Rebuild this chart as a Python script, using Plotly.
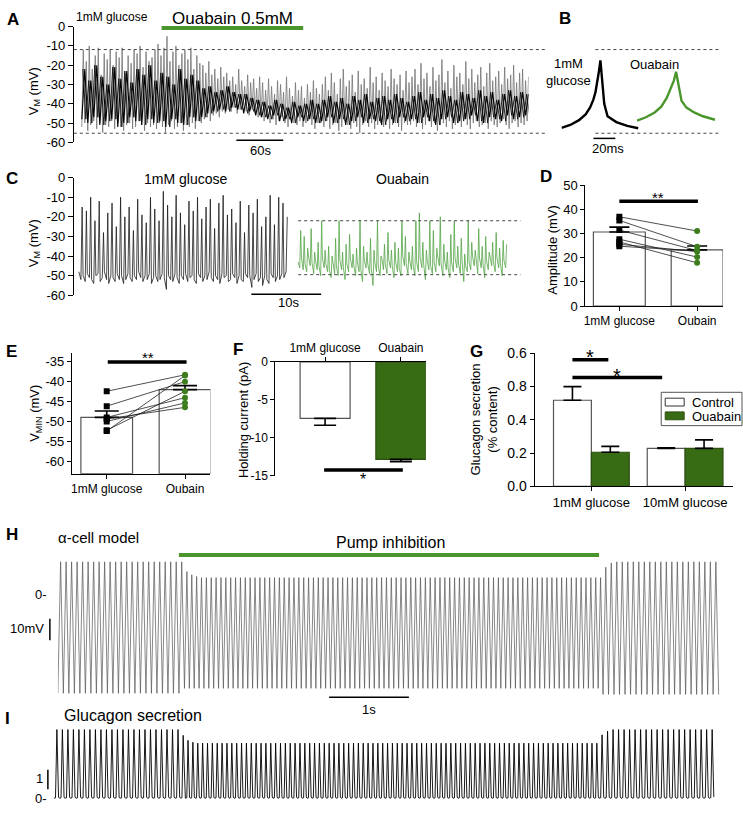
import numpy as np
import plotly.graph_objects as go

W, H = 743, 815
def fx(p): return p / W
def fy(p): return 1 - p / H
def dx(a, b): return [fx(a), fx(b)]
def dy(top, bot): return [fy(bot), fy(top)]

FONT = "Liberation Sans, Arial, sans-serif"
GREEN_BAR = "#376b14"
GREEN_LINE = "#4a962c"
GREEN_TRACE = "#55a447"
GREEN_DOT = "#3d7d1e"

# ---------------- Panel A: whole recording (mV) ----------------
A_DURATION = 570  # s
a_peaks = [-12,-18,-10,-22,-15,-11,-25,-14,-17,-12,-20,-13,-16,-11,-24,-15,-19,-12,-14,-10,-21,-13,-18,-16,-12,
           -9,-15,-11,-5,-18,-13,-10,-20,-14,-12,-17,-11,-22,-15,-19,
           -20,-24,-18,-25,-22,-27,-21,-26,-24,-28,
           -26,-30,-22,-28,-31,-25,-29,-27,-32,-26,
           -29,-33,-27,-31,-35,-28,-30,-34,-26,-32,-36,-29,-33,-31,-37,-30,-34,-28,-32,-35,
           -30,-26,-33,-24,-29,-35,-27,-22,-31,-28,-25,-34,-23,-30,-27,-32,-21,-29,-26,-33,-24,-28,-31,-22,-27,-30,-25,-33,-23,-29,
           -26,-22,-30,-19,-27,-24,-31,-21,-28,-25,-17,-29,-23,-32,-20,-26,-24,-30,-18,-27,-22,-29,-25,-21,-31,-24,-19,-28,-26,-23,-30,-21,-27,-25,-20,-29,-24,-22,-28,-26]
a_troughs = [-52,-50,-54,-51,-49,-53,-50,-55,-51,-52,-49,-53,-50,-52,-54,-51,-50,-53,-52,-49,-51,-54,-50,-52,-51,
             -53,-50,-52,-55,-51,-49,-53,-52,-50,-54,-51,-52,-50,-53,-49,
             -50,-48,-47,-49,-46,-45,-47,-44,-45,-43,
             -44,-42,-45,-43,-41,-44,-46,-43,-45,-47,
             -47,-49,-46,-50,-48,-51,-49,-47,-50,-52,-48,-50,-51,-49,-52,-50,-48,-51,-53,-50,
             -50,-52,-49,-53,-51,-50,-54,-52,-49,-51,-53,-50,-52,-55,-51,-49,-52,-50,-53,-51,-50,-52,-49,-53,-51,-50,-52,-54,-50,-51,
             -51,-49,-52,-50,-53,-51,-49,-52,-50,-54,-51,-50,-52,-49,-53,-51,-50,-52,-48,-51,-53,-50,-49,-52,-51,-50,-53,-49,-51,-52,-50,-48,-51,-53,-50,-49,-52,-50,-51,-49]
a_core_hi = [-22,-28,-20,-26,-30,-21,-27,-23,-29,-22,-25,-20,-28,-24,-26,-30,-22,-27,-25,-28,
             -32,-31,-34,-33,-31,-34,-35,-35,-37,-38,
             -39,-41,-38,-40,-42,-39,-41,-40,-38,-40,
             -38,-36,-39,-37,-40,-36,-38,-35,-39,-37,-36,-38,-35,-37,-39,
             -36,-34,-38,-35,-37,-33,-36,-38,-34,-35,-37,-33,-36,-34,-38,-35,-33,-36,-34,-35]
a_core_lo = [-48,-50,-47,-51,-49,-48,-52,-50,-47,-49,-51,-48,-50,-49,-52,-48,-50,-51,-47,-49,
             -47,-45,-44,-43,-44,-42,-43,-45,-44,-46,
             -47,-48,-46,-49,-48,-50,-47,-49,-48,-50,
             -49,-47,-50,-48,-51,-49,-47,-50,-48,-49,-51,-48,-50,-47,-49,
             -48,-50,-47,-49,-51,-48,-47,-50,-49,-48,-46,-49,-50,-47,-48,-49,-46,-48,-47,-46]
a_ref_levels = [-11.9, -55.3]

# ---------------- Panel B: single spikes ----------------
b_glc_t = [0, 8, 16, 22, 26, 29, 31, 33, 34.5, 35.5, 37, 39, 42, 50, 60, 70]
b_glc_v = [-52.5, -51, -48.5, -45.5, -42, -38, -34, -28, -22, -17.5, -28, -40, -46.5, -49.5, -51.5, -52.7]
b_oua_t = [0, 8, 16, 22, 27, 31, 33.5, 35.5, 37.5, 40.5, 45, 52, 60, 71]
b_oua_v = [-48.8, -47, -44.5, -41.5, -37, -32, -28, -23.4, -30, -38.5, -42, -44.5, -46.5, -48.3]
B_OUA_OFFSET = 69  # ms

# ---------------- Panel C: 30 s excerpts ----------------
c_glc_peaks = [-15,-17,-10,-22,-12,-28,-18,-13,-25,-10,
               -20,-15,-27,-11,-19,-23,-10,-16,-22,-7,
               -14,-20,-9,-18,-24,-12,-17,-10,-21,-15,
               -11,-26,-13,-9,-19,-16,-23,-12,-28,-14,
               -18,-11,-25,-20,-9,-24,-10,-13,-20]
c_glc_base = [-48,-52,-50,-53,-49,-51,-52,-54,-50,-49,
              -53,-51,-48,-52,-54,-50,-51,-53,-49,-52,
              -50,-54,-52,-49,-51,-53,-50,-52,-48,-51,
              -53,-50,-52,-49,-54,-51,-50,-53,-52,-49,
              -51,-57,-50,-52,-53,-49,-51,-54,-50,-52,
              -49,-53,-51,-50,-52,-54,-49,-51,-53,-50,
              -52,-48,-51,-53,-50,-52,-54,-49,-51,-50,
              -53,-52,-49,-51,-54,-50,-52,-53,-49,-51,
              -50,-56,-52,-49,-53,-51,-55,-50,-52,-54,
              -49,-51,-53,-50,-52,-49,-51,-48]
c_oua_peaks = [-27,-30,-36,-26,-38,-33,-22,-37,-35,-40,-31,-22,-38,-34,-29,-39,-36,-22,-35,-38,
               -31,-37,-22,-40,-34,-28,-37,-33,-36,-22,-30,-38,-35,-22,-18,-33,-37,-22,-27,-36,
               -20,-34,-38,-29,-22,-35,-31,-39,-22,-33,-37,-26,-35,-30,-38,-33,-28,-36,-32,-34]
c_oua_base = [-43,-46,-41,-47,-44,-48,-40,-45,-43,-49,
              -42,-47,-45,-50,-41,-46,-44,-48,-47,-51,
              -43,-49,-45,-50,-42,-47,-46,-52,-44,-48,
              -41,-46,-45,-50,-43,-48,-47,-53,-42,-46,
              -44,-49,-46,-55,-43,-48,-45,-50,-41,-47,
              -44,-49,-42,-46,-45,-51,-43,-48,-46,-50,
              -40,-45,-44,-49,-42,-47,-45,-50,-43,-48,
              -41,-46,-44,-52,-42,-47,-45,-49,-43,-48,
              -40,-45,-44,-50,-42,-47,-46,-51,-43,-48,
              -41,-46,-44,-49,-42,-53,-45,-48,-43,-47,
              -40,-45,-42,-49,-41,-46,-44,-51,-42,-47,
              -40,-45,-43,-48,-41,-46,-44,-50,-42,-46]
c_ref_levels = [-22, -49.5]
C_SEG = 30.0       # s per excerpt
C_OUA_START = 31.4 # s

# ---------------- Panel D: amplitude ----------------
d_cats = ["1mM glucose", "Oubain"]
d_means = [30.7, 23.3]
d_sem = [2.0, 1.6]
d_glc = [37.0, 35.5, 31.5, 27.7, 26.6, 25.6, 24.8]
d_oua = [31.1, 24.6, 23.0, 20.3, 17.9, 22.6, 22.8]
d_sig = 43.5

# ---------------- Panel E: Vmin ----------------
e_cats = ["1mM glucose", "Oubain"]
e_means = [-49.0, -42.1]
e_sem = [1.6, 1.0]
e_glc = [-42.5, -46.2, -49.0, -49.4, -50.0, -52.2, -52.4]
e_oua = [-38.4, -40.1, -44.1, -46.5, -45.4, -42.5, -38.6]
e_floor = -63
e_sig = -35.2

# ---------------- Panel F: holding current ----------------
f_cats = ["1mM glucose", "Ouabain"]
f_means = [-7.45, -12.85]
f_sem = [0.9, 0.3]
f_sig = -14.27

# ---------------- Panel G: glucagon secretion ----------------
g_groups = ["1mM glucose", "10mM glucose"]
g_series = ["Control", "Ouabain"]
g_ctrl = [0.517, 0.228]
g_ctrl_sem = [0.082, 0.003]
g_oua = [0.205, 0.228]
g_oua_sem = [0.035, 0.051]
g_tickvals = [0.0, 0.2, 0.4, 0.6, 0.8]
g_ticktext = ["0.0", "0.2", "0.4", "0.8", "0.6"]
g_sig = [0.76, 0.653]

# ---------------- Panel H / I: model ----------------
n_pre, n_during, n_post = 23, 86, 21
period_pre, period_during, period_post = 0.069, 0.061, 0.069
h_peak_pre, h_peak_during, h_peak_post = 15.0, 7.7, 15.0
h_on_peaks = [10.5, 9.0, 8.2]
h_off_peaks = [12.5, 14.5]
h_trough_pre, h_trough_during, h_trough_post = -45.9, -43.6, -46.4
i_peak_pre, i_peak_during, i_peak_post = 3.68, 2.95, 3.68
i_on_peaks = [3.37, 3.1, 3.0]
i_off_peaks = [3.4, 3.6]
HI_RANGE = [0, 8.3125]

fig = go.Figure()
def line_tr(x, y, ax, color, width, opacity=1.0):
    fig.add_trace(go.Scatter(x=x, y=y, mode="lines", line=dict(color=color, width=width),
                             opacity=opacity, xaxis="x" + ax, yaxis="y" + ax,
                             showlegend=False, hoverinfo="skip"))

# A traces: spikes (grey) and dense core (black), core drawn twice with an offset
a_v = []
for tr, pk in zip(a_troughs, a_peaks):
    a_v += [tr, pk]
a_t = np.linspace(0, A_DURATION, len(a_v))
line_tr(a_t, a_v, "", "#747474", 0.8)
core_v = []
for lo, hi in zip(a_core_lo, a_core_hi):
    core_v += [lo, hi]
core_t = np.linspace(0, A_DURATION, len(core_v))
line_tr(core_t, core_v, "", "#000000", 1.1)
core_v2 = []
for lo, hi in zip(a_core_lo, a_core_hi):
    core_v2 += [hi, lo]
step = A_DURATION / len(core_v2)
line_tr(core_t + step * 0.35, core_v2, "", "#111111", 0.9)

# B traces
line_tr(b_glc_t, b_glc_v, "2", "#000000", 2.4)
line_tr([t + B_OUA_OFFSET for t in b_oua_t], b_oua_v, "2", GREEN_LINE, 2.4)

# C traces: two baseline samples then a narrow spike per event
def excerpt(peaks, base, t0, dur):
    xs, ys = [], []
    n = len(peaks)
    u = dur / n
    for i, p in enumerate(peaks):
        if 2 * i + 1 < len(base):
            t = t0 + i * u
            xs += [t, t + 0.5 * u, t + 0.78 * u]
            ys += [base[2 * i], base[2 * i + 1], p]
    return xs, ys
x1, y1 = excerpt(c_glc_peaks, c_glc_base, 0, C_SEG)
line_tr(x1, y1, "3", "#1a1a1a", 0.8)
x2, y2 = excerpt(c_oua_peaks, c_oua_base, C_OUA_START, C_SEG)
line_tr(x2, y2, "3", GREEN_TRACE, 0.8)

# D
fig.add_trace(go.Bar(x=[0, 1], y=d_means, width=0.667, marker=dict(color="white", line=dict(color="#555", width=1.2)),
                     xaxis="x4", yaxis="y4", showlegend=False, hoverinfo="skip"))
fig.add_trace(go.Scatter(x=[0, 1], y=d_means, mode="markers", marker=dict(size=1, color="rgba(0,0,0,0)"),
                         error_y=dict(type="data", symmetric=False, array=d_sem, arrayminus=[0, 0], width=10, thickness=1.6, color="black"),
                         xaxis="x4", yaxis="y4", showlegend=False, hoverinfo="skip"))
px_, py_ = [], []
for a, b in zip(d_glc, d_oua):
    px_ += [0, 1, None]; py_ += [a, b, None]
fig.add_trace(go.Scatter(x=px_, y=py_, mode="lines", line=dict(color="#222", width=0.8), xaxis="x4", yaxis="y4", showlegend=False, hoverinfo="skip"))
fig.add_trace(go.Scatter(x=[0] * len(d_glc), y=d_glc, mode="markers", marker=dict(symbol="square", size=6, color="black"), xaxis="x4", yaxis="y4", showlegend=False, hoverinfo="skip"))
fig.add_trace(go.Scatter(x=[1] * len(d_oua), y=d_oua, mode="markers", marker=dict(symbol="circle", size=6, color=GREEN_DOT), xaxis="x4", yaxis="y4", showlegend=False, hoverinfo="skip"))

# E
fig.add_trace(go.Bar(x=[0, 1], y=[m - e_floor for m in e_means], base=e_floor, width=0.66,
                     marker=dict(color="white", line=dict(color="#555", width=1.2)),
                     xaxis="x5", yaxis="y5", showlegend=False, hoverinfo="skip"))
fig.add_trace(go.Scatter(x=[0, 1], y=e_means, mode="markers", marker=dict(size=1, color="rgba(0,0,0,0)"),
                         error_y=dict(type="data", symmetric=False, array=e_sem, arrayminus=[0, 0], width=12, thickness=1.6, color="black"),
                         xaxis="x5", yaxis="y5", showlegend=False, hoverinfo="skip"))
px_, py_ = [], []
for a, b in zip(e_glc, e_oua):
    px_ += [0, 1, None]; py_ += [a, b, None]
fig.add_trace(go.Scatter(x=px_, y=py_, mode="lines", line=dict(color="#222", width=0.8), xaxis="x5", yaxis="y5", showlegend=False, hoverinfo="skip"))
fig.add_trace(go.Scatter(x=[0] * len(e_glc), y=e_glc, mode="markers", marker=dict(symbol="square", size=6, color="black"), xaxis="x5", yaxis="y5", showlegend=False, hoverinfo="skip"))
fig.add_trace(go.Scatter(x=[1] * len(e_oua), y=e_oua, mode="markers", marker=dict(symbol="circle", size=6, color=GREEN_DOT), xaxis="x5", yaxis="y5", showlegend=False, hoverinfo="skip"))

# F
fig.add_trace(go.Bar(x=[0, 1], y=f_means, width=0.66,
                     marker=dict(color=["white", GREEN_BAR], line=dict(color=["#555", "#2c4f12"], width=1.2)),
                     xaxis="x6", yaxis="y6", showlegend=False, hoverinfo="skip"))
fig.add_trace(go.Scatter(x=[0, 1], y=f_means, mode="markers", marker=dict(size=1, color="rgba(0,0,0,0)"),
                         error_y=dict(type="data", symmetric=False, array=[0, 0], arrayminus=f_sem, width=11, thickness=1.6, color="black"),
                         xaxis="x6", yaxis="y6", showlegend=False, hoverinfo="skip"))

# G
g_off = 0.202
g_w = 0.404
fig.add_trace(go.Bar(x=[i - g_off for i in range(2)], y=g_ctrl, width=g_w, name=g_series[0],
                     marker=dict(color="white", line=dict(color="#555", width=1.2)),
                     xaxis="x7", yaxis="y7", hoverinfo="skip", showlegend=False))
fig.add_trace(go.Bar(x=[i + g_off for i in range(2)], y=g_oua, width=g_w, name=g_series[1],
                     marker=dict(color=GREEN_BAR, line=dict(color="#2c4f12", width=1.2)),
                     xaxis="x7", yaxis="y7", hoverinfo="skip", showlegend=False))
fig.add_trace(go.Scatter(x=[i - g_off for i in range(2)] + [i + g_off for i in range(2)], y=g_ctrl + g_oua, mode="markers",
                         marker=dict(size=1, color="rgba(0,0,0,0)"),
                         error_y=dict(type="data", symmetric=False, array=g_ctrl_sem + g_oua_sem, arrayminus=[0] * 4, width=9, thickness=1.6, color="black"),
                         xaxis="x7", yaxis="y7", showlegend=False, hoverinfo="skip"))

# H and I
periods = [period_pre] * n_pre + [period_during] * n_during + [period_post] * n_post
h_peaks = ([h_peak_pre] * n_pre + h_on_peaks + [h_peak_during] * (n_during - len(h_on_peaks))
           + h_off_peaks + [h_peak_post] * (n_post - len(h_off_peaks)))
h_troughs = [h_trough_pre] * n_pre + [h_trough_during] * n_during + [h_trough_post] * n_post
i_peaks = ([i_peak_pre] * n_pre + i_on_peaks + [i_peak_during] * (n_during - len(i_on_peaks))
           + i_off_peaks + [i_peak_post] * (n_post - len(i_off_peaks)))
hx, hy, ix, iy = [], [], [], []
t = 0.0
for p, pk, tr, ipk in zip(periods, h_peaks, h_troughs, i_peaks):
    hx += [t, t + 0.5 * p]; hy += [tr, pk]
    ix += [t, t + 0.3 * p, t + 0.55 * p, t + 0.85 * p]; iy += [0.0, 0.02, ipk, 0.06]
    t += p
hx.append(t); hy.append(h_troughs[-1])
line_tr(hx, hy, "8", "#555555", 0.7)
line_tr(ix, iy, "9", "#000000", 0.9)
inhib_start = n_pre * period_pre
inhib_end = inhib_start + n_during * period_during

# ---------------- Axes ----------------
def hidden(dom, rng, anchor):
    return dict(domain=dom, range=rng, anchor=anchor, visible=False, fixedrange=True)

def neg_text(vals):
    return [("-" if v < 0 else "") + ("%g" % abs(v)) for v in vals]

tick_common = dict(showgrid=False, zeroline=False, showline=True, linecolor="black", linewidth=1,
                   ticks="outside", tickcolor="black", tickwidth=1, fixedrange=True)

lay = {}
lay["xaxis"] = hidden(dx(72, 528), [-10.2, A_DURATION], "y")
lay["yaxis"] = dict(domain=dy(19, 137), range=[-60, 0], anchor="x", ticklen=5,
                    tickvals=list(range(0, -61, -10)), ticktext=neg_text(range(0, -61, -10)),
                    tickfont=dict(size=13), **tick_common)
lay["xaxis2"] = hidden(dx(561, 716), [0, 141], "y2")
lay["yaxis2"] = hidden(dy(19, 137), [-60, 0], "x2")
lay["xaxis3"] = hidden(dx(72, 520), [-0.714, 63.29], "y3")
lay["yaxis3"] = dict(domain=dy(173, 293), range=[-60, 0], anchor="x3", ticklen=5,
                     tickvals=list(range(0, -61, -10)), ticktext=neg_text(range(0, -61, -10)),
                     tickfont=dict(size=13), **tick_common)
lay["xaxis4"] = dict(domain=dx(585, 723), range=[-0.436, 1.333], anchor="y4", ticklen=4,
                     tickvals=[0, 1], ticktext=d_cats, tickfont=dict(size=12), **tick_common)
lay["yaxis4"] = dict(domain=dy(181, 304), range=[0, 50], anchor="x4", ticklen=4,
                     tickvals=[0, 10, 20, 30, 40, 50], tickfont=dict(size=13), **tick_common)
lay["xaxis5"] = dict(domain=dx(70, 209), range=[-0.446, 1.325], anchor="y5", ticklen=4,
                     tickvals=[0, 1], ticktext=e_cats, tickfont=dict(size=12), **tick_common)
lay["yaxis5"] = dict(domain=dy(352, 475), range=[e_floor, -33], anchor="x5", ticklen=4,
                     tickvals=list(range(-35, -61, -5)), ticktext=neg_text(range(-35, -61, -5)),
                     tickfont=dict(size=13), **tick_common)
lay["xaxis6"] = dict(domain=dx(274, 425), range=[-0.658, 1.33], anchor="y6", side="top", ticklen=4,
                     tickvals=[0, 1], ticktext=f_cats, tickfont=dict(size=12), **tick_common)
lay["yaxis6"] = dict(domain=dy(361, 477), range=[-15, 0], anchor="x6", ticklen=4,
                     tickvals=[0, -5, -10, -15], ticktext=neg_text([0, -5, -10, -15]),
                     tickfont=dict(size=12), **tick_common)
lay["xaxis7"] = dict(domain=dx(534, 733), range=[-0.606, 1.511], anchor="y7", ticklen=4,
                     tickvals=[0, 1], ticktext=g_groups, tickfont=dict(size=13), **tick_common)
lay["yaxis7"] = dict(domain=dy(352, 488), range=[0, 0.8], anchor="x7", ticklen=4,
                     tickvals=g_tickvals, ticktext=g_ticktext, tickfont=dict(size=14), **tick_common)
lay["xaxis8"] = hidden(dx(56, 721), HI_RANGE, "y8")
lay["yaxis8"] = hidden(dy(555, 705), [-48.6, 19.5], "x8")
lay["xaxis9"] = hidden(dx(52, 717), HI_RANGE, "y9")
lay["yaxis9"] = hidden(dy(728, 808), [-0.105, 4.1], "x9")

# ---------------- Annotations ----------------
ann = []
def txt(x, y, s, size=12, xa="center", ya="middle", angle=0, color="black"):
    ann.append(dict(x=fx(x), y=fy(y), xref="paper", yref="paper", text=s, showarrow=False,
                    xanchor=xa, yanchor=ya, textangle=angle,
                    font=dict(size=size, family=FONT, color=color)))

for lab, x, y in [("A", 3, 12), ("B", 556, 11), ("C", 2, 174), ("D", 537, 172), ("E", 2, 350),
                  ("F", 230, 348), ("G", 467, 350), ("H", 2, 537), ("I", 1, 725)]:
    txt(x, y, "<b>%s</b>" % lab, size=17, xa="left")

txt(72, 9, "1mM glucose", size=12, xa="left")
txt(231, 11, "Ouabain 0.5mM", size=17)
txt(32, 85, "V<sub>M</sub> (mV)", size=13, angle=-90)
txt(259, 145, "60s", size=13)
txt(593, 65, "1mM<br>glucose", size=13, xa="right")
txt(654, 58, "Ouabain", size=13)
txt(608, 143, "20ms", size=13)
txt(184, 174, "1mM glucose", size=14)
txt(402, 174, "Ouabain", size=14)
txt(32, 240, "V<sub>M</sub> (mV)", size=13, angle=-90)
txt(287, 300, "10s", size=13)
txt(552, 247, "Amplitude (mV)", size=13, angle=-90)
txt(658, 193, "**", size=15)
txt(34, 413, "V<sub>MIN</sub> (mV)", size=13, angle=-90)
txt(146, 357, "**", size=15)
txt(242, 420, "Holding current (pA)", size=13, angle=-90)
txt(362, 481, "*", size=16)
txt(483, 420, "Glucagon secretion<br>(% content)", size=13, angle=-90)
txt(590, 356, "*", size=20)
txt(617, 375, "*", size=20)
txt(97, 540, "α-cell model", size=15)
txt(390, 545, "Pump inhibition", size=16)
txt(47, 598, "0-", size=13, xa="right")
txt(25, 633, "10mV", size=13)
txt(368, 716, "1s", size=13)
txt(131, 722, "Glucagon secretion", size=16)
txt(43, 786, "1", size=13, xa="right")
txt(47, 806, "0-", size=13, xa="right")
txt(690, 402, g_series[0], size=13, xa="left")
txt(690, 417, g_series[1], size=13, xa="left")

# ---------------- Shapes ----------------
shapes = []
def pline(x0, y0, x1, y1, width=1.0, color="black", dash=None):
    shapes.append(dict(type="line", xref="paper", yref="paper", x0=fx(x0), y0=fy(y0), x1=fx(x1), y1=fy(y1),
                       line=dict(width=width, color=color, dash=dash)))
def prect(x0, y0, x1, y1, fill, line="#444", width=1.0):
    shapes.append(dict(type="rect", xref="paper", yref="paper", x0=fx(x0), y0=fy(y0), x1=fx(x1), y1=fy(y1),
                       fillcolor=fill, line=dict(color=line, width=width)))
def dline(xr, yr, x0, y0, x1, y1, width=1.0, color="black", dash=None):
    shapes.append(dict(type="line", xref=xr, yref=yr, x0=x0, y0=y0, x1=x1, y1=y1,
                       line=dict(width=width, color=color, dash=dash)))

for lv in a_ref_levels:
    shapes.append(dict(type="line", xref="paper", yref="y", x0=fx(72), x1=fx(547), y0=lv, y1=lv,
                       line=dict(width=1, color="#444", dash="3px,3px")))
    shapes.append(dict(type="line", xref="paper", yref="y", x0=fx(595), x1=fx(720), y0=lv, y1=lv,
                       line=dict(width=1, color="#444", dash="3px,3px")))
pline(160, 20.5, 302, 20.5, width=4, color=GREEN_LINE)
pline(235, 135, 282, 135, width=1.5)
pline(593, 133, 615, 133, width=1.5)
for lv in c_ref_levels:
    shapes.append(dict(type="line", xref="paper", yref="y3", x0=fx(297), x1=fx(520), y0=lv, y1=lv,
                       line=dict(width=1, color="#444", dash="3px,3px")))
pline(250, 292, 320, 292, width=1.5)
dline("x4", "y4", 0, d_sig, 1.01, d_sig, width=3.5)
dline("x5", "y5", 0.013, e_sig, 1.02, e_sig, width=3.5)
dline("x6", "y6", -0.013, f_sig, 1.026, f_sig, width=3.5)
dline("x7", "y7", -0.202, g_sig[0], 0.181, g_sig[0], width=3.5)
dline("x7", "y7", -0.202, g_sig[1], 0.755, g_sig[1], width=3.5)
prect(661, 392, 742, 426, "white", "#555", 1)
prect(665, 398, 684, 406, "white", "#333", 1)
prect(665, 412, 684, 420, GREEN_BAR, "#2c4f12", 1)
shapes.append(dict(type="line", xref="x8", yref="paper", x0=inhib_start - 0.07, x1=inhib_end - 0.05,
                   y0=fy(558), y1=fy(558), line=dict(width=4, color=GREEN_LINE)))
pline(48, 623, 48, 645, width=1.5)
pline(328, 703, 408, 703, width=1.5)
pline(46, 777, 46, 797, width=1.5)

fig.update_layout(
    width=W, height=H, autosize=False,
    margin=dict(l=0, r=0, t=0, b=0),
    paper_bgcolor="white", plot_bgcolor="rgba(0,0,0,0)",
    font=dict(family=FONT, color="black", size=12),
    barmode="overlay",
    showlegend=False,
    annotations=ann, shapes=shapes, **lay)

fig.write_html("out.html",
               config={"displayModeBar": False, "staticPlot": True},
               post_script="document.body.style.margin='0';document.body.style.padding='0';"
                           "document.documentElement.style.overflow='hidden';")
